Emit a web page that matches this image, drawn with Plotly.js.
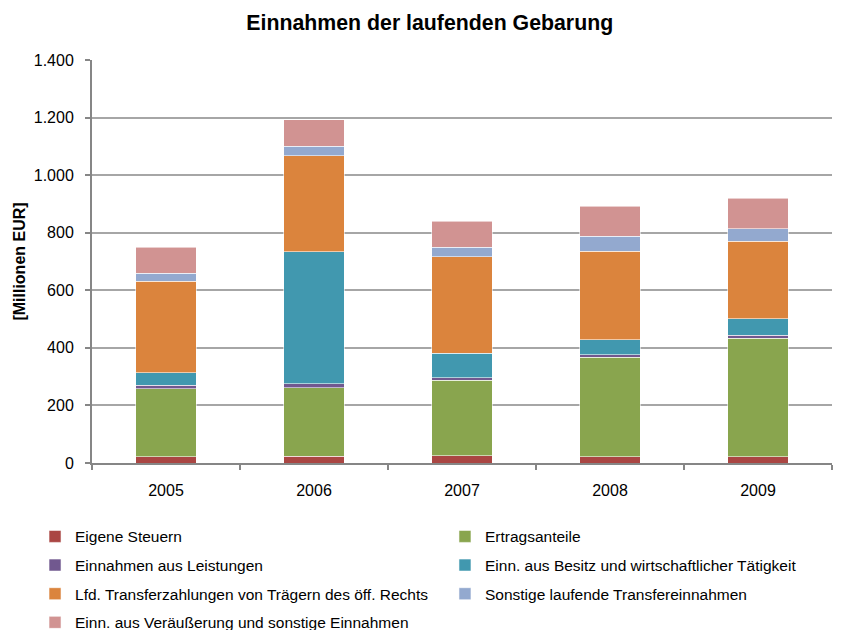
<!DOCTYPE html>
<html>
<head>
<meta charset="utf-8">
<script src="https://cdn.plot.ly/plotly-3.0.1.min.js"></script>
<style>body{margin:0;}#chart{width:851px;height:630px;}</style>
</head>
<body>
<div id="chart"></div>
<script>
// years and series (Millionen EUR)
var years = ["2005", "2006", "2007", "2008", "2009"];
var eigeneSteuern = [22, 23, 26, 22, 22];
var ertragsanteile = [236, 239, 261, 346, 411];
var leistungen = [12, 14, 10, 8, 10];
var besitz = [44, 458, 84, 53, 58];
var lfdTransfer = [317, 333, 336, 307, 269];
var sonstigeTransfer = [29, 33, 33, 52, 43];
var veraeusserung = [90, 93, 90, 104, 107];

var names = [
  "Eigene Steuern",
  "Ertragsanteile",
  "Einnahmen aus Leistungen",
  "Einn. aus Besitz und wirtschaftlicher Tätigkeit",
  "Lfd. Transferzahlungen von Trägern des öff. Rechts",
  "Sonstige laufende Transfereinnahmen",
  "Einn. aus Veräußerung und sonstige Einnahmen"
];
var series = [eigeneSteuern, ertragsanteile, leistungen, besitz, lfdTransfer, sonstigeTransfer, veraeusserung];
var colors = ["#AA4643", "#89A54E", "#71588F", "#4198AF", "#DB843D", "#93A9CF", "#D19392"];

// legend in two columns: even entries left, odd entries right
var data = series.map((vals, i) => ({
  x: years,
  y: vals,
  name: names[i],
  type: "bar",
  legend: i % 2 == 0 ? "legend" : "legend2",
  legendgroup: "g" + i,
  marker: {color: colors[i], line: {color: "rgba(255,255,255,0.7)", width: 0.8}}
}));

var legendStyle = {
  orientation: "v",
  traceorder: "grouped",
  yanchor: "top",
  y: -0.141,
  xanchor: "left",
  font: {size: 15.5},
  itemwidth: 30,
  tracegroupgap: 5.5,
  bgcolor: "rgba(0,0,0,0)"
};

var layout = {
  width: 851,
  height: 630,
  barmode: "stack",
  bargap: 0.59,
  separators: ",.",
  paper_bgcolor: "white",
  plot_bgcolor: "white",
  font: {family: "Liberation Sans, Arial, sans-serif", size: 16, color: "#000"},
  margin: {l: 92, r: 19, t: 60, b: 167, autoexpand: false},
  title: {
    text: "<b>Einnahmen der laufenden Gebarung</b>",
    font: {size: 21.3},
    x: 0.505, xref: "container",
    y: 0.965, yref: "container", yanchor: "middle"
  },
  xaxis: {
    type: "category",
    tickson: "boundaries",
    ticks: "outside",
    ticklen: 5,
    tickcolor: "#868686",
    tickwidth: 2,
    ticklabelstandoff: 12,
    showline: true,
    linecolor: "#868686",
    linewidth: 2,
    showgrid: false
  },
  yaxis: {
    title: {text: "<b>[Millionen EUR]</b>", font: {size: 16}, standoff: 4},
    range: [0, 1400],
    dtick: 200,
    tickformat: ",d",
    ticks: "outside",
    ticklen: 5,
    tickcolor: "#868686",
    tickwidth: 2,
    ticklabelstandoff: 8,
    showline: true,
    linecolor: "#868686",
    linewidth: 2,
    gridcolor: "#A6A6A6",
    gridwidth: 1.5,
    zeroline: false
  },
  legend: Object.assign({}, legendStyle, {x: -0.077}),
  legend2: Object.assign({}, legendStyle, {x: 0.477})
};

Plotly.newPlot("chart", data, layout, {displayModeBar: false});
</script>
</body>
</html>
